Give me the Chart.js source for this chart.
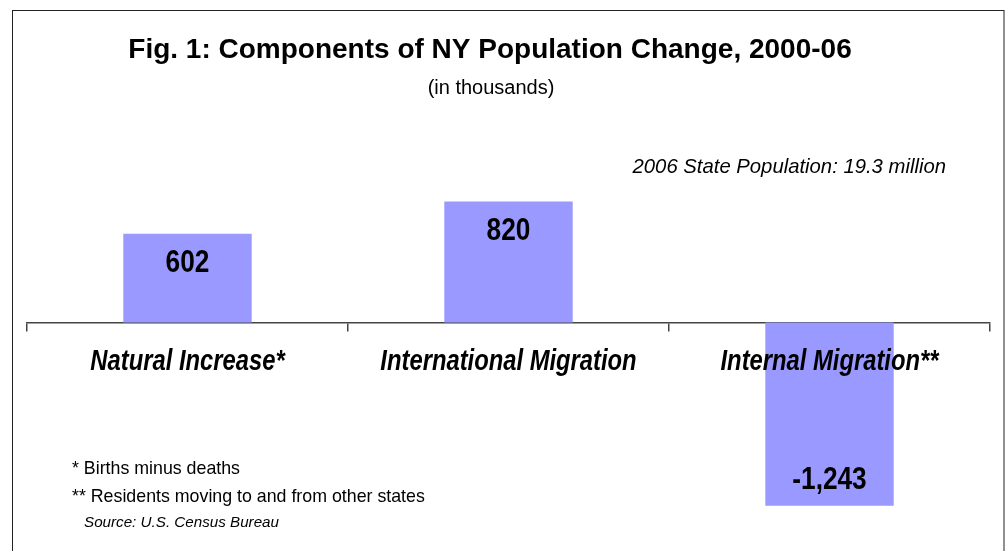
<!DOCTYPE html>
<html>
<head>
<meta charset="utf-8">
<script src="https://cdn.jsdelivr.net/npm/chart.js@4"></script>
<style>
  html, body { margin: 0; padding: 0; background: #fff; }
  #wrap { width: 1008px; height: 551px; position: relative; }
</style>
</head>
<body>
<div id="wrap"><canvas id="popChart" width="1008" height="551"></canvas></div>
<script>
// data
const categories = ["Natural Increase*", "International Migration", "Internal Migration**"];
const changeValues = [602, 820, -1243];
const valueLabels = ["602", "820", "-1,243"];

const TITLE = "Fig. 1: Components of NY Population Change, 2000-06";
const SUBTITLE = "(in thousands)";
const NOTE_POP = "2006 State Population: 19.3 million";
const FOOTNOTES = ["* Births minus deaths", "** Residents moving to and from other states"];
const SOURCE = "Source: U.S. Census Bureau";

const BAR_COLOR = "rgb(153,153,255)";
const SANS = "'Liberation Sans', Arial, Helvetica, sans-serif";
const NARROW_SCALE = 0.82; // no narrow face installed, squeeze instead

// draws text squeezed horizontally around x
function narrowText(ctx, text, x, y) {
    ctx.save();
    ctx.translate(x, y);
    ctx.scale(NARROW_SCALE, 1);
    ctx.fillText(text, 0, 0);
    ctx.restore();
}

// frame + free text
const textPlugin = {
    id: "texts",
    beforeDraw(chart) {
        const ctx = chart.ctx;
        ctx.save();
        ctx.fillStyle = "#fff";
        ctx.fillRect(0, 0, chart.width, chart.height);
        ctx.strokeStyle = "#222";
        ctx.lineWidth = 1;
        ctx.strokeRect(12.5, 10.5, 991.5, 560);
        ctx.restore();
    },
    afterDraw(chart) {
        const ctx = chart.ctx;
        ctx.save();
        ctx.fillStyle = "#000";
        ctx.textBaseline = "alphabetic";

        // category names under the zero line, on top of the bars
        const xs = chart.scales.x;
        ctx.textAlign = "center";
        ctx.font = "italic bold 29px " + SANS;
        categories.forEach((c, i) => {
            narrowText(ctx, c, xs.getPixelForValue(i), 370);
        });

        ctx.font = "bold 28px " + SANS;
        ctx.fillText(TITLE, 490, 58);
        ctx.font = "20px " + SANS;
        ctx.fillText(SUBTITLE, 491, 94);

        ctx.textAlign = "right";
        ctx.font = "italic 20.3px " + SANS;
        ctx.fillText(NOTE_POP, 946, 173);

        ctx.textAlign = "left";
        ctx.font = "17.8px " + SANS;
        ctx.fillText(FOOTNOTES[0], 72, 474);
        ctx.fillText(FOOTNOTES[1], 72, 502);
        ctx.font = "italic 15.2px " + SANS;
        ctx.fillText(SOURCE, 84, 527);
        ctx.restore();
    }
};

// numbers inside the bars
const valuePlugin = {
    id: "barValues",
    afterDatasetsDraw(chart) {
        const ctx = chart.ctx;
        const meta = chart.getDatasetMeta(0);
        ctx.save();
        ctx.fillStyle = "#000";
        ctx.font = "bold 32px " + SANS;
        ctx.textAlign = "center";
        ctx.textBaseline = "alphabetic";
        meta.data.forEach((bar, i) => {
            const v = changeValues[i];
            const y = v >= 0 ? bar.y + 38 : bar.y - 17;
            narrowText(ctx, valueLabels[i], bar.x, y);
        });
        ctx.restore();
    }
};

const ctx = document.getElementById("popChart").getContext("2d");

const popChart = new Chart(ctx, {
    type: "bar",
    data: {
        labels: categories,
        datasets: [{
            data: changeValues,
            backgroundColor: BAR_COLOR,
            borderWidth: 0,
            categoryPercentage: 1,
            barPercentage: 0.4
        }]
    },
    options: {
        responsive: false,
        animation: false,
        layout: {
            padding: { left: 27, right: 18, top: 175, bottom: 22 }
        },
        plugins: {
            legend: { display: false },
            title: { display: false },
            tooltip: { enabled: false }
        },
        scales: {
            x: {
                position: { y: 0 },
                offset: true,
                grid: {
                    offset: true,
                    drawOnChartArea: false,
                    drawTicks: true,
                    tickLength: 8,
                    color: "#444",
                    lineWidth: 1.5
                },
                border: { display: true, color: "#444", width: 1.5 },
                ticks: { display: false }
            },
            y: {
                display: false,
                min: -1400,
                max: 1000
            }
        }
    },
    plugins: [textPlugin, valuePlugin]
});
</script>
</body>
</html>
